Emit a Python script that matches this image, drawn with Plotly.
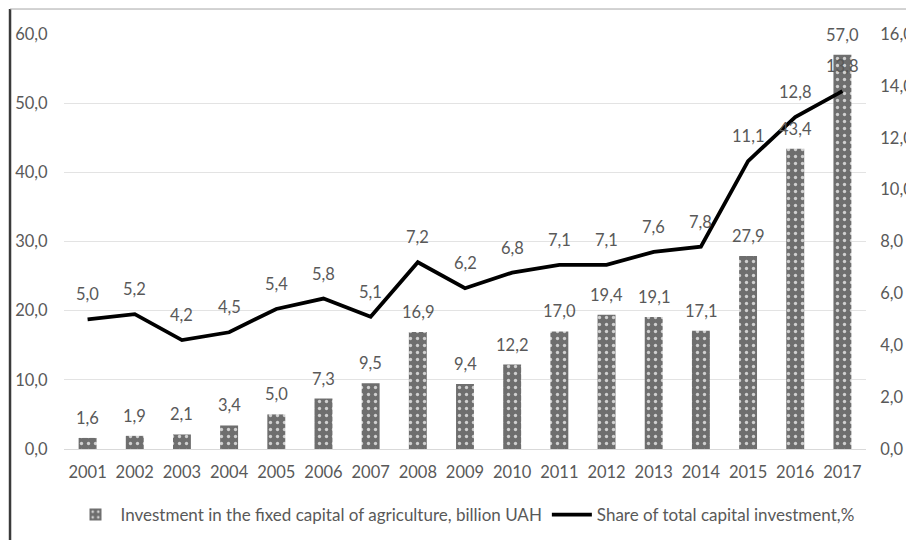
import plotly.graph_objects as go

years = list(range(2001, 2018))
investment = [1.6, 1.9, 2.1, 3.4, 5.0, 7.3, 9.5, 16.9, 9.4, 12.2, 17.0, 19.4, 19.1, 17.1, 27.9, 43.4, 57.0]
share = [5.0, 5.2, 4.2, 4.5, 5.4, 5.8, 5.1, 7.2, 6.2, 6.8, 7.1, 7.1, 7.6, 7.8, 11.1, 12.8, 13.8]
left_ticks = [0, 10, 20, 30, 40, 50, 60]
right_ticks = [0, 2, 4, 6, 8, 10, 12, 14, 16]

bar_name = "Investment in the fixed capital of agriculture, billion UAH"
line_name = "Share of total capital investment,%"

FONT = "Lato"
GRAY = "#595959"
FS = 16.5

fig = go.Figure()
fig.add_trace(go.Bar(
    x=years, y=investment, name=bar_name, yaxis="y",
    marker=dict(color="#707070", line=dict(width=0),
                pattern=dict(shape=".", fgcolor="#d0d0d0", bgcolor="#6e6e6e",
                             size=7, solidity=0.18)),
    width=0.38,
))
fig.add_trace(go.Scatter(
    x=years, y=share, name=line_name, yaxis="y2", mode="lines",
    line=dict(color="black", width=3.8),
))

ann = []
for x, v in zip(years, investment):
    ann.append(dict(x=x, y=v, xref="x", yref="y", text=f"{v:.1f}".replace(".", ","),
                    showarrow=False, yshift=20, yanchor="middle",
                    font=dict(family=FONT, size=FS, color=GRAY)))
for x, v in zip(years, share):
    ann.append(dict(x=x, y=v, xref="x", yref="y2", text=f"{v:.1f}".replace(".", ","),
                    showarrow=False, yshift=25, yanchor="middle",
                    font=dict(family=FONT, size=FS, color=GRAY)))

def tick_common(ticklen):
    return dict(ticks="outside", ticklen=ticklen, tickcolor="rgba(0,0,0,0)",
                automargin=False, showline=False,
                tickfont=dict(family=FONT, size=FS, color=GRAY))

fig.update_layout(
    template="none",
    width=906, height=532,
    margin=dict(l=56, r=48, t=26, b=91, autoexpand=False),
    paper_bgcolor="white", plot_bgcolor="white",
    separators=", ",
    font=dict(family=FONT, size=FS, color=GRAY),
    showlegend=True,
    legend=dict(orientation="h", x=0.5, xanchor="center",
                yref="container", y=0.047, yanchor="middle",
                font=dict(family=FONT, size=17, color=GRAY), itemwidth=40,
                tracegroupgap=0, traceorder="normal", bgcolor="rgba(0,0,0,0)"),
    xaxis=dict(range=[2000.5, 2017.5], tickvals=years, tickformat="d",
               showgrid=False, zeroline=False, **tick_common(8)),
    yaxis=dict(range=[0, 60], tickvals=left_ticks, tickformat=".1f",
               showgrid=True, gridcolor="#e3e3e3", gridwidth=1,
               zeroline=True, zerolinecolor="#d9d9d9", zerolinewidth=1,
               **tick_common(12)),
    yaxis2=dict(range=[0, 16], tickvals=right_ticks, tickformat=".1f",
                overlaying="y", side="right", showgrid=False, zeroline=False,
                **tick_common(10)),
    annotations=ann,
    shapes=[
        dict(type="line", xref="paper", yref="paper", x0=-0.0673, x1=-0.0673,
             y0=1.0602, y1=-0.23, line=dict(color="#3a3a3a", width=2.5)),
        dict(type="line", xref="paper", yref="paper", x0=-0.0673, x1=1.07,
             y0=1.0602, y1=1.0602, line=dict(color="#a6a6a6", width=1)),
    ],
)

fig.write_html("out.html")
